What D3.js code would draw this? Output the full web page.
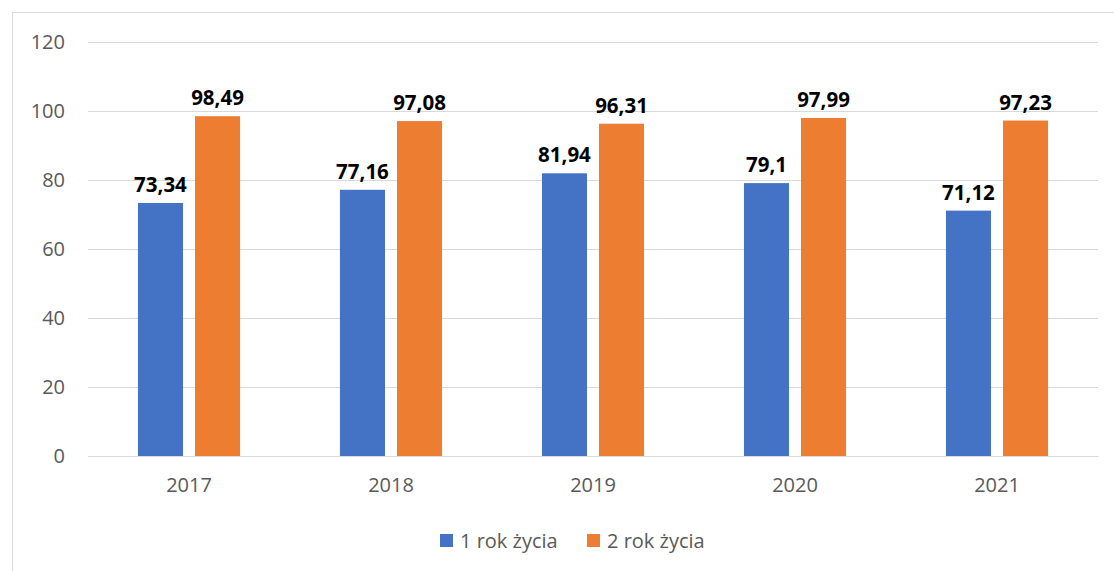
<!DOCTYPE html>
<html><head><meta charset="utf-8">
<script src="https://cdn.jsdelivr.net/npm/d3@7"></script>
<style>body{margin:0;background:#fff}svg{display:block}</style>
</head><body>
<svg id="c" width="1114" height="571"></svg>
<script>
const categories = ["2017","2018","2019","2020","2021"];
const seriesNames = ["1 rok życia","2 rok życia"];
const series1 = [73.34, 77.16, 81.94, 79.1, 71.12];
const series2 = [98.49, 97.08, 96.31, 97.99, 97.23];
const yTicks = [0,20,40,60,80,100,120];
const colors = ["#4472C4","#ED7D31"];

const svg = d3.select("#c");
const font = "'Open Sans', 'Noto Sans', sans-serif";
svg.append("rect").attr("x",12.5).attr("y",12.5).attr("width",1114).attr("height",600)
  .attr("fill","#fff").attr("stroke","#d9d9d9").attr("stroke-width",1);

const x = d3.scaleBand().domain(categories).range([88,1098]).paddingInner(0).paddingOuter(0);
const y = d3.scaleLinear().domain([0,120]).range([456,42]);
const bw = x.bandwidth()*0.223, gap = 12;

const yAxis = d3.axisLeft(y).tickValues(yTicks).tickSize(-(1098-88)).tickPadding(23);
const ga = svg.append("g").attr("transform","translate(88,0)").call(yAxis);
ga.select(".domain").remove();
ga.selectAll(".tick line").attr("stroke","#d9d9d9").attr("stroke-width",1);
ga.selectAll(".tick text").attr("fill","#595959").style("font-family",font).style("font-size","20px");

const xAxis = d3.axisBottom(x).tickSize(0).tickPadding(22);
const gx = svg.append("g").attr("transform","translate(0,456)").call(xAxis);
gx.select(".domain").attr("stroke","#d9d9d9");
gx.selectAll(".tick text").attr("fill","#595959").style("font-family",font).style("font-size","20px");

const data = [series1, series2];
data.forEach((vals, si) => {
  const g = svg.append("g");
  categories.forEach((c, i) => {
    const cx = x(c) + x.bandwidth()/2;
    const bx = si === 0 ? cx - gap/2 - bw : cx + gap/2;
    g.append("rect").attr("x",bx).attr("y",y(vals[i])).attr("width",bw)
      .attr("height",y(0)-y(vals[i])).attr("fill",colors[si]);
    g.append("text").attr("x",bx+bw/2).attr("y",y(vals[i])-11)
      .attr("text-anchor","middle").attr("fill","#000")
      .style("font-family",font).style("font-size","20.5px").style("font-weight","bold")
      .text(String(vals[i]).replace(".",","));
  });
});

const legX = [440, 587];
seriesNames.forEach((n, i) => {
  svg.append("rect").attr("x",legX[i]).attr("y",534).attr("width",13).attr("height",13).attr("fill",colors[i]);
  svg.append("text").attr("x",legX[i]+20).attr("y",548).attr("fill","#595959")
    .style("font-family",font).style("font-size","20px").text(n);
});
</script>
</body></html>
